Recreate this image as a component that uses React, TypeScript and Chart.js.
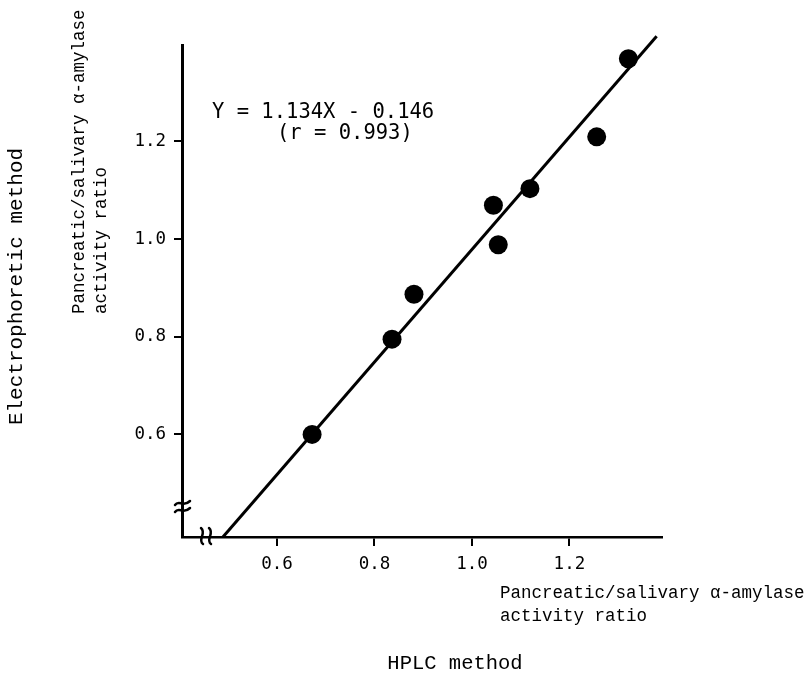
import React, { useEffect, useRef } from "react";
import { Chart, registerables } from "chart.js";

Chart.register(...registerables);

// ---- data ----
const X_VALUES = [0.672, 0.836, 0.881, 1.044, 1.054, 1.119, 1.256, 1.321];
const Y_VALUES = [0.6, 0.795, 0.887, 1.069, 0.988, 1.103, 1.209, 1.369];
const FIT_X = [0.489, 1.379];
const FIT_Y = [0.39, 1.415];
const X_TICKS = [0.6, 0.8, 1.0, 1.2];
const Y_TICKS = [0.6, 0.8, 1.0, 1.2];

const EQUATION = "Y = 1.134X - 0.146";
const CORRELATION = "(r = 0.993)";
const Y_TITLE_OUTER = "Electrophoretic method";
const Y_TITLE_INNER = ["Pancreatic/salivary α-amylase", "activity ratio"];
const X_TITLE_INNER = ["Pancreatic/salivary α-amylase", "activity ratio"];
const X_TITLE_OUTER = "HPLC method";

const SANS_MONO = '"DejaVu Sans Mono", monospace';
const SERIF_MONO = '"Liberation Mono", "Courier New", monospace';

const textPlugin = {
  id: "annotTexts",
  afterDraw(chart: any) {
    const ctx = chart.ctx as CanvasRenderingContext2D;
    ctx.save();
    ctx.fillStyle = "#000";
    // equation
    ctx.font = `20.5px ${SANS_MONO}`;
    ctx.textAlign = "left";
    ctx.textBaseline = "alphabetic";
    ctx.fillText(EQUATION, 212, 118);
    ctx.fillText(CORRELATION, 277, 139);

    // x titles
    ctx.font = `17.5px ${SERIF_MONO}`;
    ctx.fillText(X_TITLE_INNER[0], 500, 598);
    ctx.fillText(X_TITLE_INNER[1], 500, 621);
    ctx.font = `20.5px ${SERIF_MONO}`;
    ctx.textAlign = "center";
    ctx.fillText(X_TITLE_OUTER, 455, 669);

    // y titles (rotated)
    ctx.save();
    ctx.translate(16, 286.5);
    ctx.rotate(-Math.PI / 2);
    ctx.font = `21px ${SERIF_MONO}`;
    ctx.textAlign = "center";
    ctx.textBaseline = "middle";
    ctx.fillText(Y_TITLE_OUTER, 0, 0);
    ctx.restore();

    ctx.font = `17.5px ${SERIF_MONO}`;
    ctx.textAlign = "left";
    ctx.textBaseline = "middle";
    [79, 101].forEach((x, i) => {
      ctx.save();
      ctx.translate(x, 314);
      ctx.rotate(-Math.PI / 2);
      ctx.fillText(Y_TITLE_INNER[i], 0, 0);
      ctx.restore();
    });

    // axis break marks
    const { left, bottom } = chart.chartArea;
    ctx.strokeStyle = "#000";
    ctx.lineWidth = 2.5;
    ctx.lineCap = "round";
    // y-axis break: two stacked tildes
    [503, 510].forEach((yy) => {
      ctx.beginPath();
      ctx.moveTo(left - 7, yy + 2);
      ctx.bezierCurveTo(left - 3, yy - 4, left + 1, yy + 5, left + 8, yy - 2);
      ctx.stroke();
    });
    // x-axis break: two vertical tildes
    [left + 20, left + 28].forEach((xx) => {
      ctx.beginPath();
      ctx.moveTo(xx - 1, bottom - 9);
      ctx.bezierCurveTo(xx + 5, bottom - 4, xx - 5, bottom + 3, xx + 1, bottom + 7);
      ctx.stroke();
    });
    ctx.restore();
  },
};

export default function App() {
  const ref = useRef<HTMLCanvasElement | null>(null);

  useEffect(() => {
    document.body.style.margin = "0";
    const canvas = ref.current;
    if (!canvas) return;
    const points = X_VALUES.map((x, i) => ({ x, y: Y_VALUES[i] }));
    const fit = FIT_X.map((x, i) => ({ x, y: FIT_Y[i] }));
    const chart = new Chart(canvas, {
      type: "scatter",
      data: {
        datasets: [
          {
            type: "line",
            data: fit,
            borderColor: "#000",
            borderWidth: 3,
            pointRadius: 0,
            clip: false as any,
            order: 2,
          } as any,
          {
            type: "scatter",
            data: points,
            backgroundColor: "#000",
            borderWidth: 0,
            pointRadius: 9.5,
            order: 1,
          },
        ],
      },
      options: {
        responsive: false,
        animation: false,
        layout: { padding: { left: 0, right: 148, top: 45, bottom: 0 } },
        plugins: {
          legend: { display: false },
          tooltip: { enabled: false },
          title: { display: false },
        },
        scales: {
          x: {
            type: "linear",
            position: "bottom",
            min: 0.405,
            max: 1.39,
            afterBuildTicks: (scale: any) => {
              scale.ticks = X_TICKS.map((v) => ({ value: v }));
            },
            afterFit: (scale: any) => {
              scale.height = 137;
            },
            grid: {
              drawOnChartArea: false,
              drawTicks: true,
              tickLength: 9,
              color: "#000",
              lineWidth: 2,
            },
            border: { display: true, color: "#000", width: 2.5 },
            ticks: {
              color: "#000",
              padding: 8,
              font: { family: SANS_MONO, size: 17.5 },
              callback: (v: any) => Number(v).toFixed(1),
            },
          },
          y: {
            type: "linear",
            position: "left",
            min: 0.39,
            max: 1.397,
            afterBuildTicks: (scale: any) => {
              scale.ticks = Y_TICKS.map((v) => ({ value: v }));
            },
            afterFit: (scale: any) => {
              scale.width = 182;
            },
            grid: {
              drawOnChartArea: false,
              drawTicks: true,
              tickLength: 8,
              color: "#000",
              lineWidth: 2,
            },
            border: { display: true, color: "#000", width: 3 },
            ticks: {
              color: "#000",
              padding: 8,
              font: { family: SANS_MONO, size: 17.5 },
              callback: (v: any) => Number(v).toFixed(1),
            },
          },
        },
      },
      plugins: [textPlugin],
    });
    return () => chart.destroy();
  }, []);

  return (
    <div style={{ position: "fixed", left: 0, top: 0, width: 810, height: 674, background: "#fff" }}>
      <canvas ref={ref} width={810} height={674} style={{ display: "block" }} />
    </div>
  );
}
